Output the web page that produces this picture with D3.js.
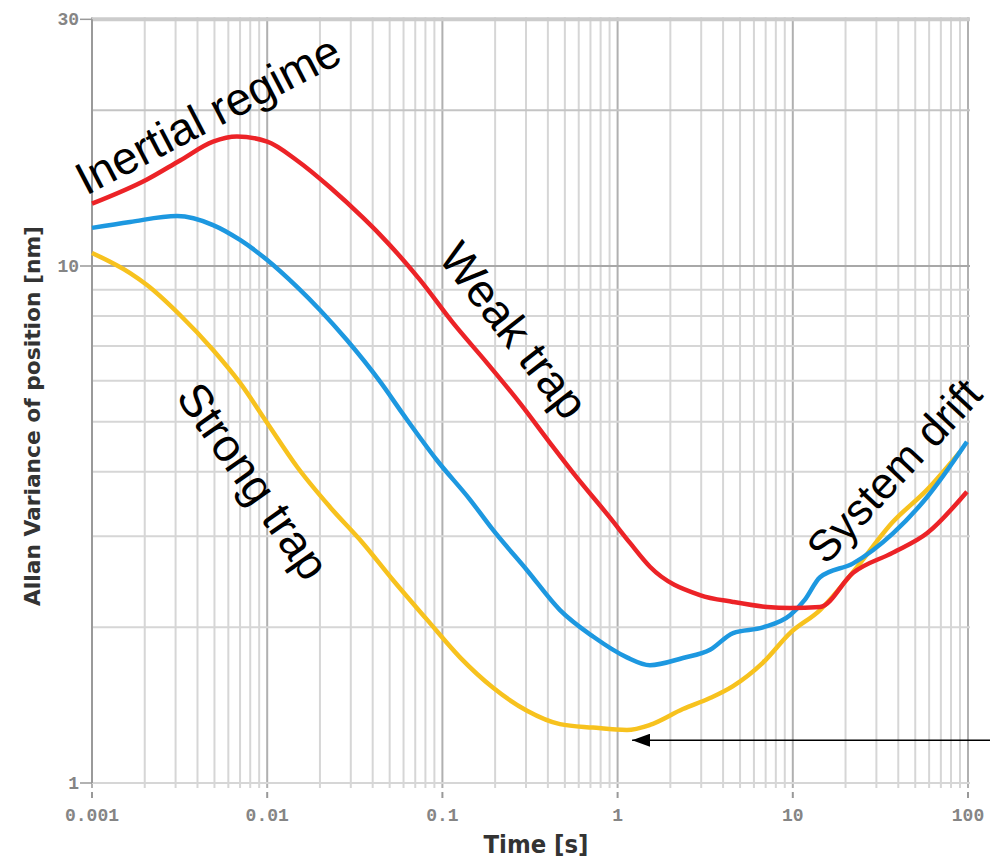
<!DOCTYPE html>
<html>
<head>
<meta charset="utf-8">
<script src="https://cdn.jsdelivr.net/npm/d3@7"></script>
<style>
  body { margin: 0; background: #fff; }
  svg { display: block; }
</style>
</head>
<body>
<div id="chart"></div>
<script>
// chart size
var width = 990;
var height = 859;

// data: [time (s), Allan variance (nm)]
var weakTrap = [[0.001,13.2],[0.00206,14.7],[0.00318,16.0],[0.00491,17.4],[0.00672,17.8],[0.01,17.4],
  [0.0148,16.0],[0.0228,14.2],[0.0352,12.4],[0.044,11.5],[0.0745,9.4],[0.115,7.76],[0.18,6.49],
  [0.277,5.43],[0.411,4.55],[0.571,3.94],[0.905,3.26],[1.18,2.91],[1.53,2.62],[2.95,2.31],
  [4.56,2.24],[7.13,2.19],[9.64,2.18],[14.3,2.19],[22.1,2.55],[37.3,2.79],[58.3,3.04],[98.6,3.66]];

var mediumTrap = [[0.001,11.85],[0.00165,12.17],[0.00306,12.49],[0.00491,12.0],[0.007,11.23],[0.01,10.27],
  [0.0148,9.11],[0.02,8.22],[0.0285,7.19],[0.044,5.98],[0.0596,5.17],[0.0931,4.21],[0.144,3.53],
  [0.194,3.09],[0.304,2.58],[0.469,2.16],[0.724,1.92],[1.13,1.75],[1.53,1.69],[2.36,1.745],
  [3.37,1.81],[4.56,1.95],[6.76,2.0],[9.64,2.11],[11.7,2.26],[14.3,2.5],[22.1,2.66],[37.3,3.04],
  [58.3,3.57],[98.6,4.57]];

var strongTrap = [[0.001,10.6],[0.00165,9.69],[0.00206,9.19],[0.00318,8.04],[0.00491,6.88],[0.007,5.94],
  [0.01,4.97],[0.0148,4.09],[0.0228,3.42],[0.0352,2.91],[0.0522,2.47],[0.0817,2.07],[0.126,1.75],
  [0.194,1.53],[0.304,1.38],[0.469,1.30],[0.724,1.28],[1.13,1.266],[1.53,1.295],[2.36,1.39],
  [3.37,1.46],[4.56,1.54],[6.76,1.71],[9.64,1.95],[14.3,2.16],[22.1,2.56],[37.3,3.2],[58.3,3.69],
  [90,4.37]];

var xTicks = [0.001, 0.01, 0.1, 1, 10, 100];
var xTickLabels = ["0.001", "0.01", "0.1", "1", "10", "100"];
var yTicks = [1, 10, 30];
var yTickLabels = ["1", "10", "30"];

var series = [
  {name: "Weak trap", data: weakTrap, color: "#ec2327"},
  {name: "Medium trap", data: mediumTrap, color: "#1d98e0"},
  {name: "Strong trap", data: strongTrap, color: "#f7c21e"}
];

// arrow pointing at the strong trap minimum
var arrowPoint = [1.21, 1.21];

var svg = d3.select("#chart").append("svg")
  .attr("width", width)
  .attr("height", height)
  .style("background", "#fff");

var x = d3.scaleLog().domain([0.001, 100]).range([92, 968]);
var y = d3.scaleLog().domain([1, 30]).range([783, 783 - 517 * Math.log10(30)]);

// grid lines
var xGrid = [];
[0.001, 0.01, 0.1, 1, 10].forEach(function(d) {
  for (var k = 1; k < 10; k++) xGrid.push(d * k);
});
xGrid.push(100);
var yGrid = [1, 2, 3, 4, 5, 6, 7, 8, 9, 10, 20, 30];

function isMajor(v) {
  return Math.abs(Math.log10(v) - Math.round(Math.log10(v))) < 1e-6;
}

svg.append("g").selectAll("line")
  .data(xGrid)
  .enter().append("line")
  .attr("x1", function(d) { return x(d); })
  .attr("x2", function(d) { return x(d); })
  .attr("y1", y(30) - 2)
  .attr("y2", 788)
  .style("stroke", function(d) { return isMajor(d) ? "#b0b0b0" : "#d6d6d6"; })
  .style("stroke-width", 2);

svg.append("g").selectAll("line")
  .data(yGrid)
  .enter().append("line")
  .attr("x1", x(0.001))
  .attr("x2", 970)
  .attr("y1", function(d) { return y(d); })
  .attr("y2", function(d) { return y(d); })
  .style("stroke", function(d) {
    if (d == 30) return "#cccccc";
    if (d == 10) return "#a8a8a8";
    return d == 20 ? "#c4c4c4" : "#d6d6d6";
  })
  .style("stroke-width", function(d) { return d == 30 ? 4 : 2; });

// left axis line
svg.append("line")
  .attr("x1", x(0.001)).attr("x2", x(0.001))
  .attr("y1", y(30)).attr("y2", y(1))
  .style("stroke", "#9a9a9a")
  .style("stroke-width", 2);

// y ticks
svg.append("g").selectAll("line")
  .data(yTicks)
  .enter().append("line")
  .attr("x1", 80).attr("x2", x(0.001))
  .attr("y1", function(d) { return y(d); })
  .attr("y2", function(d) { return y(d); })
  .style("stroke", "#999")
  .style("stroke-width", 1.5);

svg.append("g").selectAll("text")
  .data(yTicks)
  .enter().append("text")
  .attr("x", 79)
  .attr("y", function(d) { return y(d) + 6; })
  .attr("text-anchor", "end")
  .style("font-family", "Liberation Mono, monospace")
  .style("font-weight", "bold")
  .style("font-size", "18px")
  .style("fill", "#858585")
  .text(function(d, i) { return yTickLabels[i]; });

// x ticks
svg.append("g").selectAll("line")
  .data(xTicks)
  .enter().append("line")
  .attr("x1", function(d) { return x(d); })
  .attr("x2", function(d) { return x(d); })
  .attr("y1", 792).attr("y2", 798)
  .style("stroke", "#999")
  .style("stroke-width", 2);

svg.append("g").selectAll("text")
  .data(xTicks)
  .enter().append("text")
  .attr("x", function(d) { return x(d); })
  .attr("y", 821)
  .attr("text-anchor", "middle")
  .style("font-family", "Liberation Mono, monospace")
  .style("font-weight", "bold")
  .style("font-size", "18px")
  .style("fill", "#858585")
  .text(function(d, i) { return xTickLabels[i]; });

// axis titles
svg.append("text")
  .attr("x", 536)
  .attr("y", 853)
  .attr("text-anchor", "middle")
  .attr("textLength", 105)
  .attr("lengthAdjust", "spacingAndGlyphs")
  .style("font-family", "DejaVu Sans, sans-serif")
  .style("font-weight", "bold")
  .style("font-size", "24px")
  .style("fill", "#333")
  .text("Time [s]");

svg.append("text")
  .attr("transform", "translate(40,416) rotate(-90)")
  .attr("text-anchor", "middle")
  .attr("textLength", 380)
  .attr("lengthAdjust", "spacingAndGlyphs")
  .style("font-family", "DejaVu Sans, sans-serif")
  .style("font-weight", "bold")
  .style("font-size", "21px")
  .style("fill", "#333")
  .text("Allan Variance of position [nm]");

// curves
var line = d3.line()
  .x(function(d) { return x(d[0]); })
  .y(function(d) { return y(d[1]); })
  .curve(d3.curveMonotoneX);

svg.append("g").selectAll("path")
  .data([series[2], series[1], series[0]])
  .enter().append("path")
  .attr("d", function(d) { return line(d.data); })
  .style("fill", "none")
  .style("stroke", function(d) { return d.color; })
  .style("stroke-width", 4.5)
  .style("stroke-linejoin", "round");

// annotations
var notes = [
  {text: "Inertial regime", x: 86, y: 196, angle: -27.5, size: 46},
  {text: "Weak trap", x: 437, y: 258, angle: 52, size: 46},
  {text: "Strong trap", x: 175, y: 397, angle: 55, size: 46},
  {text: "System drift", x: 826, y: 566, angle: -47, size: 44}
];

svg.append("g").selectAll("text")
  .data(notes)
  .enter().append("text")
  .attr("transform", function(d) { return "translate(" + d.x + "," + d.y + ") rotate(" + d.angle + ")"; })
  .style("font-family", "Liberation Sans, Arial, sans-serif")
  .style("font-size", function(d) { return d.size + "px"; })
  .style("fill", "#000")
  .text(function(d) { return d.text; });

// arrow
svg.append("defs").append("marker")
  .attr("id", "head")
  .attr("viewBox", "0 0 10 10")
  .attr("refX", 10).attr("refY", 5)
  .attr("markerWidth", 18).attr("markerHeight", 13)
  .attr("markerUnits", "userSpaceOnUse")
  .attr("orient", "auto")
  .attr("preserveAspectRatio", "none")
  .append("path")
  .attr("d", "M0,0L10,5L0,10Z")
  .style("fill", "#000");

svg.append("line")
  .attr("x1", width + 5)
  .attr("x2", x(arrowPoint[0]))
  .attr("y1", y(arrowPoint[1]))
  .attr("y2", y(arrowPoint[1]))
  .style("stroke", "#000")
  .style("stroke-width", 1.5)
  .attr("marker-end", "url(#head)");
</script>
</body>
</html>
